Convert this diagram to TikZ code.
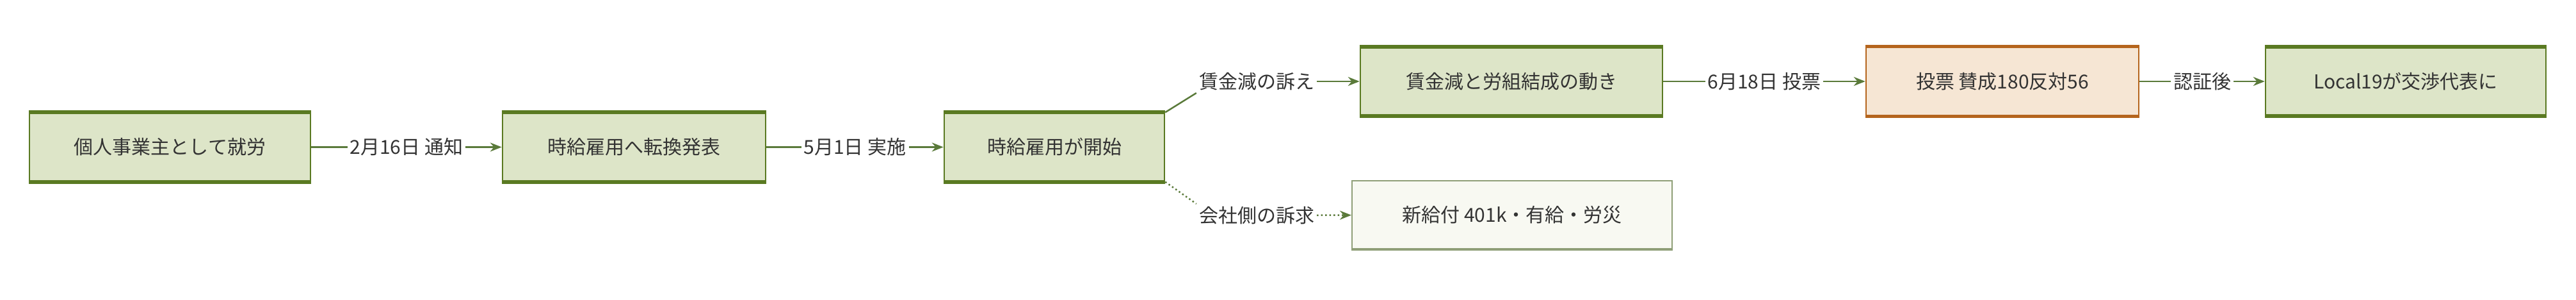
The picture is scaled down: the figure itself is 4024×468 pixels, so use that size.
\documentclass[tikz,border=0pt]{standalone}
\usepackage{fontspec}
\setmainfont{Noto Sans CJK JP}
\usetikzlibrary{arrows.meta}
\definecolor{gfill}{HTML}{DDE5C8}
\definecolor{gline}{HTML}{5A7A22}
\definecolor{ofill}{HTML}{F6E6D4}
\definecolor{oline}{HTML}{B5651D}
\definecolor{pfill}{HTML}{F8F9F2}
\definecolor{pline}{HTML}{8F9F78}
\definecolor{txt}{HTML}{333333}
\definecolor{arr}{HTML}{5A7A3A}
\begin{document}
\begin{tikzpicture}[x=1pt,y=-1pt,
  box/.style={draw=#1,line width=2.5pt,minimum height=106pt,font=\fontsize{30}{34}\selectfont,text=txt,inner sep=0pt},
  g/.style={box=gline,fill=gfill},
  o/.style={box=oline,fill=ofill},
  p/.style={box=pline,fill=pfill,line width=2pt},
  lab/.style={font=\fontsize{30}{34}\selectfont,text=txt,fill=white,inner sep=4pt},
  ed/.style={draw=arr,line width=2.5pt,-{Stealth[length=18pt,width=14pt]}},
  dt/.style={ed,dash pattern=on 2.5pt off 4pt}]
\useasboundingbox (0,0) rectangle (4024,468);
\node[g,minimum width=439pt] (a) at (265.5,229.5) {個人事業主として就労};
\node[g,minimum width=411pt] (b) at (990.5,229.5) {時給雇用へ転換発表};
\node[g,minimum width=344pt] (c) at (1647,229.5) {時給雇用が開始};
\node[g,minimum width=472pt] (d) at (2361,127) {賃金減と労組結成の動き};
\node[o,minimum width=426pt] (e) at (3128,127) {投票 賛成180反対56};
\node[g,minimum width=438pt] (f) at (3758,127) {Local19が交渉代表に};
\node[p,minimum width=500pt] (h) at (2362,335) {新給付 401k・有給・労災};
\foreach \s in {a,b,c,d,f}{
  \draw[gline,line width=6pt] (\s.north west)--(\s.north east) (\s.south west)--(\s.south east);}
\draw[oline,line width=4.5pt] (e.north west)--(e.north east) (e.south west)--(e.south east);
\draw[pline,line width=4pt] (h.south west)--(h.south east);
\draw[ed] (a) -- node[lab]{2月16日 通知} (b);
\draw[ed] (b) -- node[lab]{5月1日 実施} (c);
\node[lab] (l1) at (1963,127) {賃金減の訴え};
\node[lab] (l2) at (1963,336) {会社側の訴求};
\draw[draw=arr,line width=2.5pt] (c.north east) -- (l1.south west);
\draw[ed] (l1) -- (d);
\draw[draw=arr,line width=2.5pt,dash pattern=on 2.5pt off 4pt] (c.south east) -- (l2.north west);
\draw[dt] (l2) -- (h);
\draw[ed] (d) -- node[lab]{6月18日 投票} (e);
\draw[ed] (e) -- node[lab]{認証後} (f);
\end{tikzpicture}
\end{document}
